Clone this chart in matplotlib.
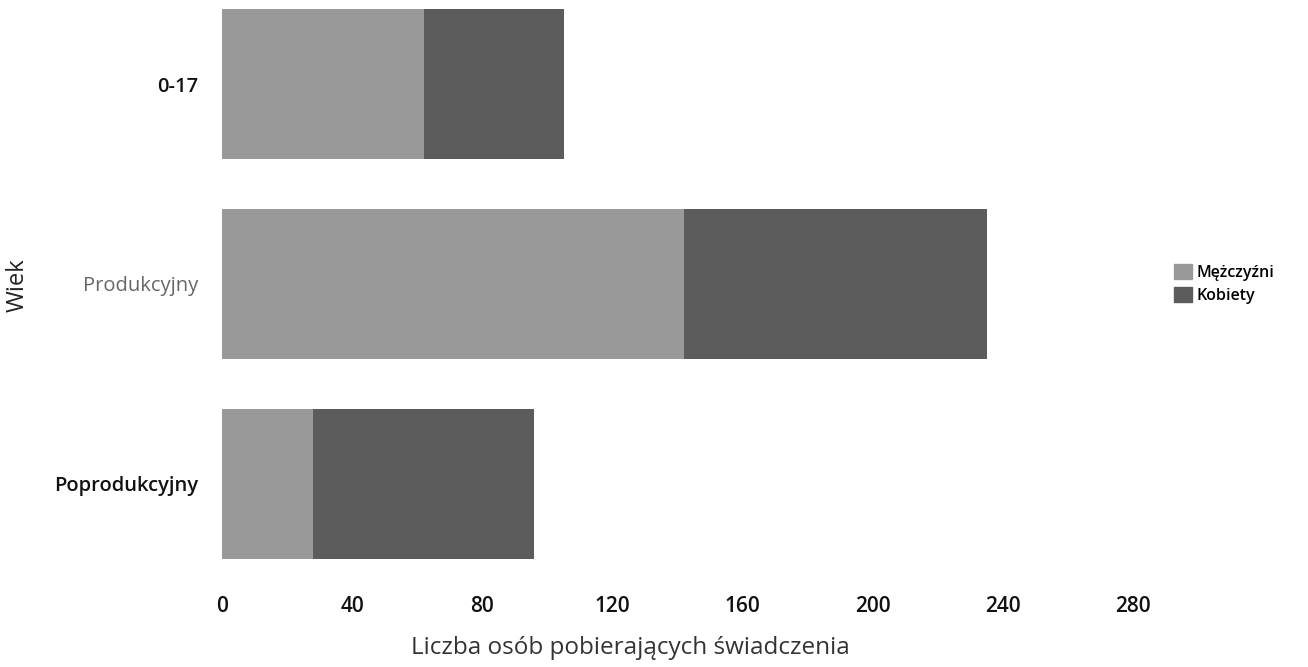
import matplotlib
matplotlib.use("Agg")
import matplotlib.pyplot as plt
from matplotlib.patches import Patch

categories = ["0-17", "Produkcyjny", "Poprodukcyjny"]
men = [62, 142, 28]
women = [43, 93, 68]
series_names = ["Mężczyźni", "Kobiety"]
xticks = [0, 40, 80, 120, 160, 200, 240, 280]

plt.rcParams['font.family'] = ['Open Sans', 'DejaVu Sans']

c_men = "#999999"
c_women = "#5c5c5c"

fig = plt.figure(figsize=(13.08, 6.67), dpi=100)
ax = fig.add_axes([222/1308, 1 - 570/667, (1133 - 222)/1308, 570/667])

y = list(range(len(categories)))
ax.barh(y, men, height=0.75, color=c_men, label=series_names[0])
ax.barh(y, women, left=men, height=0.75, color=c_women, label=series_names[1])

ax.set_xlim(0, 280)
ax.set_ylim(2.43, -0.42)
ax.set_xticks(xticks)
ax.set_xticklabels([str(t) for t in xticks], fontsize=15, color="#111111", fontweight='semibold')
ax.set_yticks(y)
ax.set_yticklabels(categories, fontsize=14.5)
tick_colors = ["#111111", "#666666", "#111111"]
tick_weights = ["semibold", "normal", "semibold"]
for lbl, col, w in zip(ax.get_yticklabels(), tick_colors, tick_weights):
    lbl.set_color(col)
    lbl.set_fontweight(w)
ax.tick_params(axis='both', length=0)
ax.tick_params(axis='x', pad=19)
ax.tick_params(axis='y', pad=17)
for s in ax.spines.values():
    s.set_visible(False)

ax.set_xlabel("Liczba osób pobierających świadczenia", fontsize=17.5, color="#333333")
ax.xaxis.set_label_coords((630 - 222) / 911, -(648 - 570) / 570)
ax.xaxis.label.set_va('center')
fig.text(18/1308, 1 - 285/667, "Wiek", rotation=90, fontsize=17, color="#222222",
         ha='center', va='center')

handles = [Patch(color=c_men), Patch(color=c_women)]
fig.legend(handles, series_names, loc='center left', bbox_to_anchor=(1166/1308, 1 - 284/667),
           frameon=False, handlelength=1.1, handleheight=1.1,
           handletextpad=0.3, labelspacing=0.35, borderpad=0,
           prop={'size': 11.5, 'weight': 'semibold'})

fig.savefig("out.png", dpi=100)
